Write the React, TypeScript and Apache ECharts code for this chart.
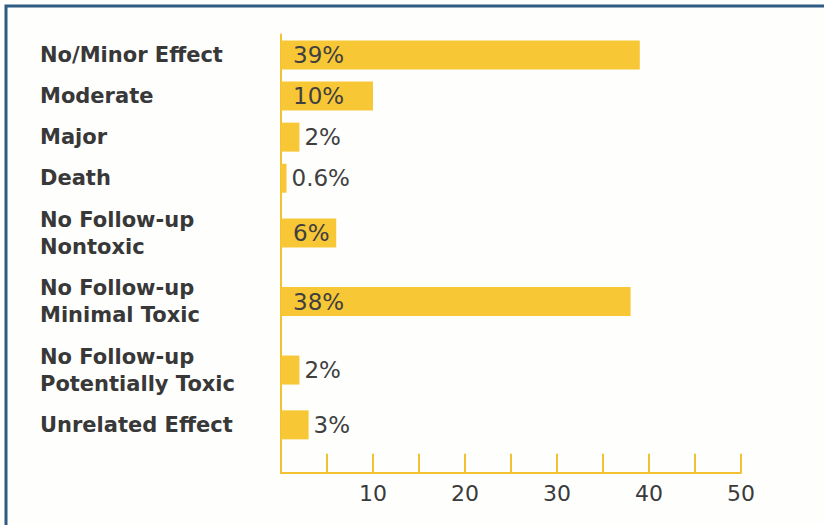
import React, { useEffect, useRef } from "react";
import * as echarts from "echarts";

// ---- data ----
const categories: string[] = [
  "No/Minor Effect",
  "Moderate",
  "Major",
  "Death",
  "No Follow-up\nNontoxic",
  "No Follow-up\nMinimal Toxic",
  "No Follow-up\nPotentially Toxic",
  "Unrelated Effect",
];
const percentages: number[] = [39, 10, 2, 0.6, 6, 38, 2, 3];
const xTickLabels: number[] = [10, 20, 30, 40, 50];

const YELLOW = "#F8C736";
const AXIS_YELLOW = "#F3C232";
const FONT = "DejaVu Sans";

export default function App() {
  const ref = useRef<HTMLDivElement>(null);

  useEffect(() => {
    if (!ref.current) return;
    const chart = echarts.init(ref.current, undefined, { renderer: "svg" });

    // Each row takes (2 * number of label lines + 1) slots on the category axis,
    // so two-line rows get more room, as in the original layout.
    const slotLabels: string[] = [];
    const slotData: any[] = [];
    categories.forEach((c, i) => {
      const lines = c.split("\n").length;
      const units = 2 * lines + 1;
      for (let k = 0; k < units; k++) {
        const isCenter = k === lines;
        slotLabels.push(isCenter ? c : "");
        if (isCenter) {
          const v = percentages[i];
          const inside = v >= 5;
          slotData.push({
            value: v,
            label: {
              show: true,
              position: inside ? "insideLeft" : "right",
              distance: inside ? 12 : 5,
            },
          });
        } else {
          slotData.push("-");
        }
      }
    });
    // room between the last bar and the value axis
    for (let k = 0; k < 2; k++) {
      slotLabels.push("");
      slotData.push("-");
    }
    const slotKeys = slotLabels.map((_, i) => "slot" + i);

    chart.setOption({
      animation: false,
      backgroundColor: "#fefefd",
      textStyle: { fontFamily: FONT },
      grid: { left: 281, right: 83, top: 34.4, height: 438.4 },
      graphic: [
        {
          type: "rect",
          z: -10,
          silent: true,
          shape: { x: 6, y: 6, width: 1000, height: 1000 },
          style: { fill: "none", stroke: "#2f5c84", lineWidth: 3 },
        },
      ],
      xAxis: {
        type: "value",
        min: 0,
        max: 50,
        interval: 5,
        splitLine: { show: false },
        axisLine: { show: true, lineStyle: { color: AXIS_YELLOW, width: 2 } },
        axisTick: {
          show: true,
          inside: true,
          length: 19,
          lineStyle: { color: AXIS_YELLOW, width: 2 },
        },
        axisLabel: {
          margin: 10,
          fontSize: 22,
          color: "#3a3a3a",
          fontFamily: FONT,
          formatter: (v: number) => (xTickLabels.indexOf(v) >= 0 ? String(v) : ""),
        },
      },
      yAxis: {
        type: "category",
        inverse: true,
        data: slotKeys,
        axisLine: { show: true, lineStyle: { color: AXIS_YELLOW, width: 2 } },
        axisTick: { show: false },
        splitLine: { show: false },
        axisLabel: {
          interval: 0,
          align: "left",
          margin: 241,
          fontSize: 21,
          lineHeight: 27,
          fontWeight: "bold",
          color: "#383838",
          fontFamily: FONT,
          formatter: (_v: string, i: number) => slotLabels[i] || "",
        },
      },
      series: [
        {
          type: "bar",
          data: slotData,
          barWidth: 29,
          itemStyle: { color: YELLOW },
          label: {
            show: true,
            fontSize: 23,
            color: "#404040",
            fontFamily: FONT,
            formatter: (p: any) => p.value + "%",
          },
        },
      ],
    });

    return () => chart.dispose();
  }, []);

  return (
    <div
      ref={ref}
      style={{ position: "fixed", left: 0, top: 0, width: 824, height: 525 }}
    />
  );
}
